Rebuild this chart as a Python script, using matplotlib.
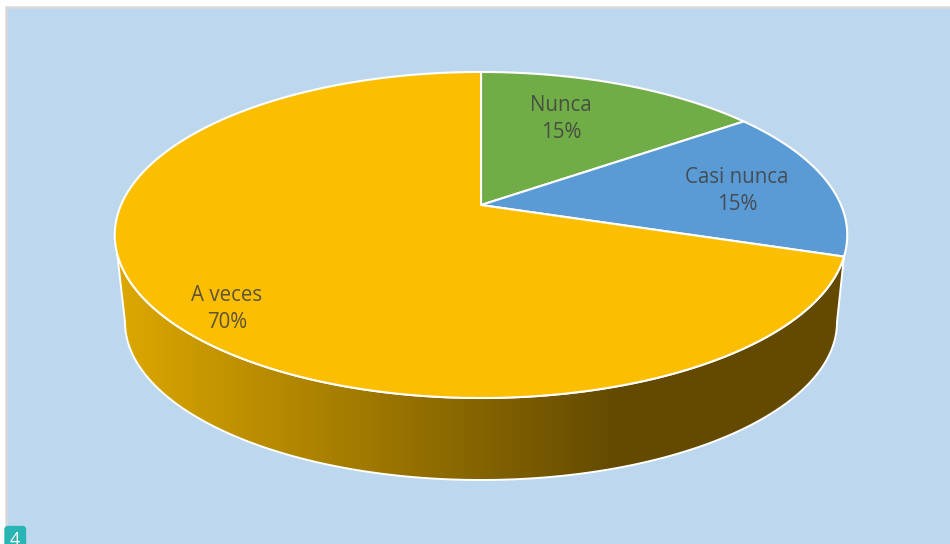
import numpy as np
import matplotlib
matplotlib.use("Agg")
import matplotlib.pyplot as plt
from matplotlib.patches import Polygon, Rectangle, FancyBboxPatch
from matplotlib.colors import LinearSegmentedColormap

categories = ["Nunca", "Casi nunca", "A veces"]
values = [15, 15, 70]
labels = ["15%", "15%", "70%"]
colors = ["#70AD47", "#5B9BD5", "#FBBE00"]
label_xy = [(561, 119), (737, 191), (227, 309)]

W, H = 950, 544
CX, CY = 481, 205      # apex of the tilted pie
A, B, P = 360.0, 157.5, 0.184   # perspective projection of the top disc
BG = "#BDD7EE"


def project(theta):
    u, v = np.sin(theta), np.cos(theta)
    w = 1 + P * v
    return CX + A * u / w, CY - B * v / w


plt.rcParams["font.family"] = ["Open Sans", "DejaVu Sans"]
fig = plt.figure(figsize=(W / 100, H / 100), dpi=100, facecolor="white")
ax = fig.add_axes([0, 0, 1, 1])
ax.set_xlim(0, W)
ax.set_ylim(H, 0)
ax.axis("off")

ax.add_patch(Rectangle((5.5, 6.5), W, H, fc=BG, ec="#D9D9D9", lw=1.8, zorder=1))

# side wall: front of the top rim, then the lower rim back again
top_t = np.linspace(np.radians(108), np.radians(253), 300)
tx, ty = project(top_t)
ph = np.radians(np.linspace(0, 180, 200))
lx = 481 + 356 * np.cos(ph)
ly = 322 + 158 * np.sin(ph)
side = np.vstack([np.column_stack([tx, ty]), np.column_stack([lx[::-1], ly[::-1]])])
side_patch = Polygon(side, closed=True, fc="none", ec="white", lw=1.4, zorder=3, joinstyle="round")
ax.add_patch(side_patch)
cmap = LinearSegmentedColormap.from_list(
    "wall", [(0, "#DDA800"), (0.6855, "#634A00"), (1, "#634A00")])
grad = np.linspace(0, 1, 732).reshape(1, -1)
im = ax.imshow(grad, extent=(115, 847, 500, 200), cmap=cmap, aspect="auto", zorder=2.5)
im.set_clip_path(side_patch)
ax.set_xlim(0, W)
ax.set_ylim(H, 0)

# top slices
start = 0.0
total = sum(values)
for val, col in zip(values, colors):
    end = start + val / total * 2 * np.pi
    th = np.linspace(start, end, 300)
    x, y = project(th)
    pts = np.vstack([[CX, CY], np.column_stack([x, y])])
    ax.add_patch(Polygon(pts, closed=True, fc=col, ec="white", lw=1.5, zorder=4, joinstyle="round"))
    start = end

for cat, lab, (x, y) in zip(categories, labels, label_xy):
    ax.text(x, y, f"{cat}\n{lab}", ha="center", va="center", fontsize=14.8,
            color="#404040", alpha=0.85, linespacing=1.43, zorder=5)

# page badge
ax.add_patch(FancyBboxPatch((5, 526.5), 20.5, 30, boxstyle="round,pad=0,rounding_size=3",
                            fc="#2AB5B5", ec="#2AB5B5", lw=1, zorder=6))
ax.text(15, 540, "4", ha="center", va="center", fontsize=13, color="white", zorder=7, clip_on=True)

fig.savefig("out.png", dpi=100, facecolor="white")
